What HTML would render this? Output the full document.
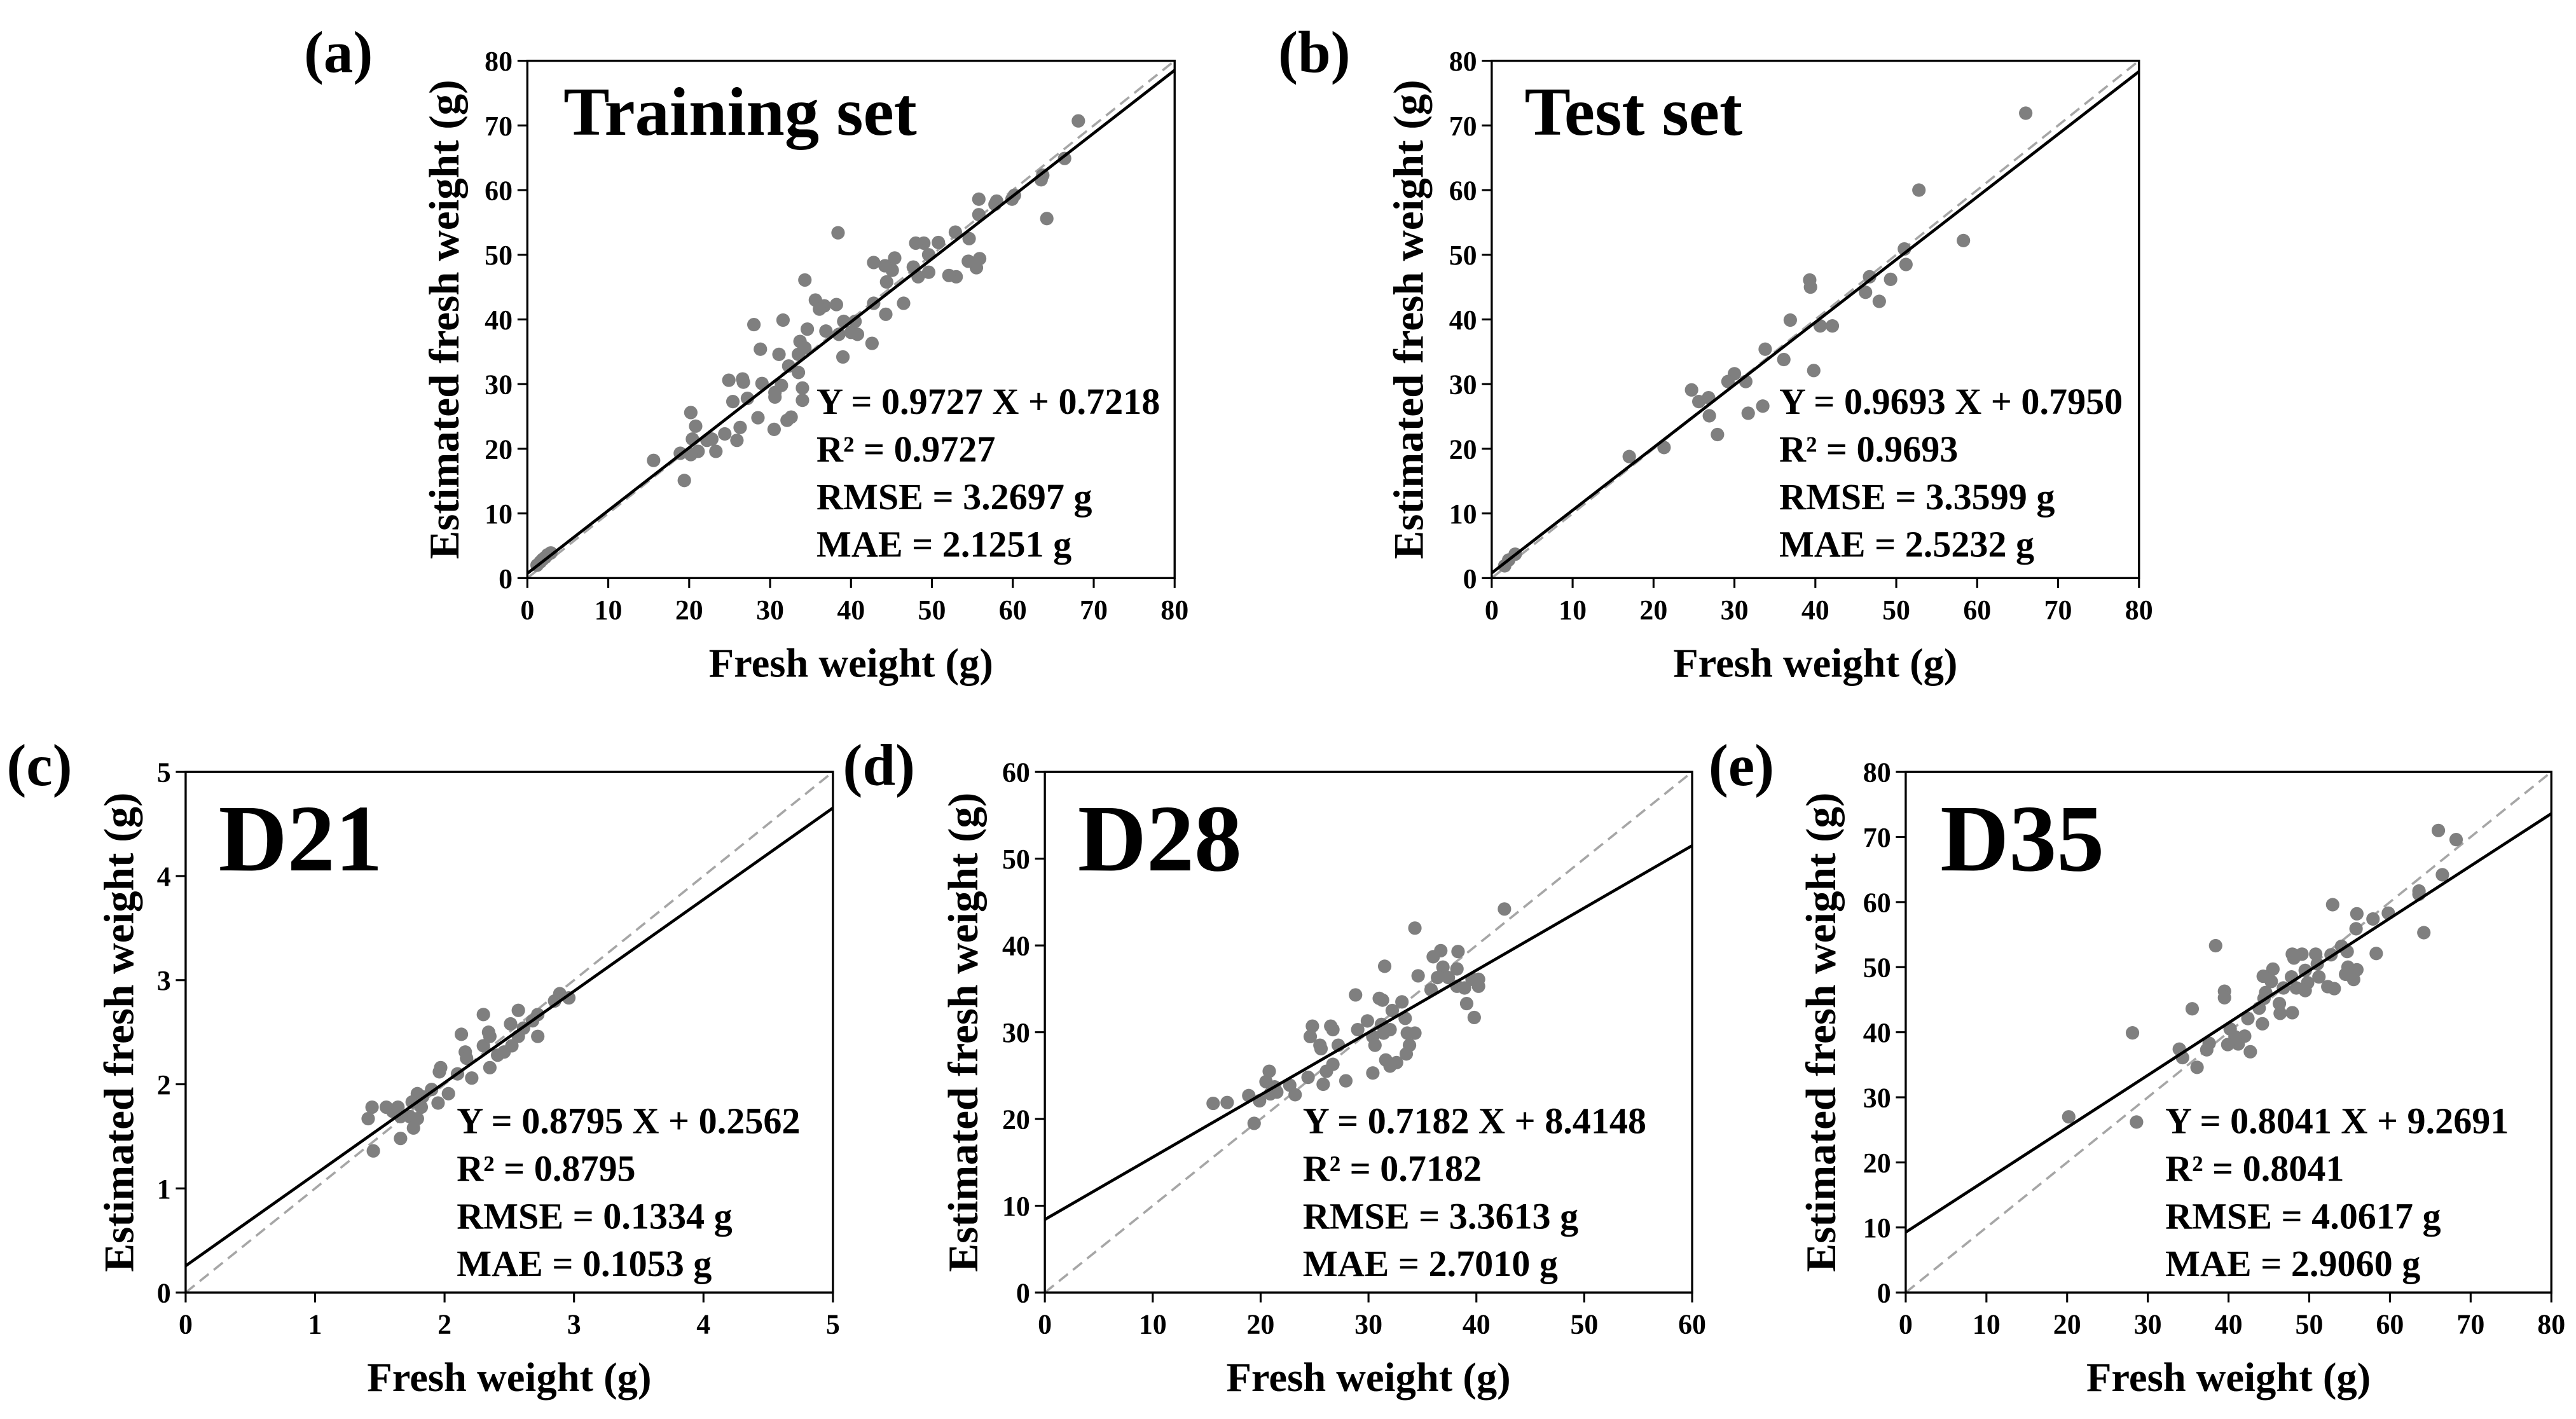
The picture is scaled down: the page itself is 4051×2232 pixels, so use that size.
<!DOCTYPE html>
<html><head><meta charset="utf-8"><style>
html,body{margin:0;padding:0;background:#fff;}
svg{display:block;}
svg text{font-family:"Liberation Serif","Times New Roman",serif !important;font-weight:bold;fill:#000;}
</style></head><body>
<svg id="fig" width="4051" height="2232" viewBox="0 0 1568 864" preserveAspectRatio="none" font-family="Liberation Serif, serif" xmlns="http://www.w3.org/2000/svg"></svg>
<script>
// ---- data ----
const trainX=[68.1,66.4,64.2,63.5,63.7,59.9,57.8,55.8,55.8,55.9,55.5,54.6,54.5,52.9,50.8,53,52.1,49.6,49.6,49,48,48.3,47.7,45.4,45.1,44.4,44.2,42.8,42.8,46.5,44.3,42.6,39.1,40,40.8,38.5,38.2,38.4,39,36.9,35.6,36.7,36.1,34.3,34.6,33.7,33.5,34.3,34,34,33.5,32.3,31.6,31.1,32.1,32.6,31.4,30.6,30.6,30.5,29,28.8,28,28.5,26.7,26.6,27.2,24.9,25.4,26.3,25.9,24.4,22.8,23.3,22.2,21.1,20.8,20.2,20.4,20.2,19.4,18.9,15.6,2.5,1.9,1.2,2.2,1.6,2.9,58,60.2,40.5];
const trainY=[70.7,64.9,55.6,61.6,62.3,58.6,57.8,58.6,56.2,49.4,48,52.5,49,53.5,51.9,46.6,46.8,50,47.3,51.8,51.8,46.6,48.1,49.5,47.6,45.8,48.3,48.8,42.5,42.5,40.8,36.3,39.7,38,37.7,37.7,42.3,53.4,34.2,38.2,43,42.1,41.6,46.1,38.5,36.6,34.6,35.6,29.4,27.5,31.8,32.8,39.9,34.6,24.4,24.9,29.8,28,28.7,23,30.1,35.4,39.2,24.8,30.3,30.8,27.8,30.6,27.3,23.3,21.3,22.3,21.5,19.6,21.3,19.6,23.5,25.6,21.5,19.1,15.1,19.3,18.2,3.6,2.9,2.0,3.2,2.5,3.9,58.3,59.2,39.7];
const testX=[66,52.8,58.3,51,51.2,49.3,46.7,46.2,47.9,39.3,39.4,36.9,40.6,42.1,33.8,36.1,39.8,30,29.2,31.4,24.7,25.6,26.8,26.9,31.7,33.5,27.9,21.3,17,2.1,2.9,1.6];
const testY=[71.9,60,52.2,50.9,48.5,46.2,46.6,44.2,42.8,46.1,45,39.9,39,39,35.4,33.8,32.1,31.6,30.4,30.4,29.1,27.3,27.9,25.1,25.5,26.6,22.2,20.2,18.8,2.8,3.7,1.9];
const d21X=[2.96,2.89,2.85,2.72,2.72,2.68,2.57,2.61,2.51,2.57,2.52,2.46,2.41,2.35,2.34,2.3,2.3,2.35,2.13,2.16,2.17,2.21,2.1,1.97,1.96,1.95,1.9,1.83,1.79,1.75,1.82,1.73,1.79,1.66,1.76,1.66,1.6,1.55,1.44,1.41,1.45,2.03,1.64];
const d21Y=[2.83,2.87,2.8,2.67,2.46,2.61,2.71,2.54,2.58,2.46,2.37,2.31,2.28,2.16,2.5,2.67,2.37,2.46,2.48,2.31,2.25,2.06,2.1,2.16,2.12,1.82,1.95,1.88,1.91,1.83,1.78,1.69,1.67,1.69,1.58,1.48,1.74,1.78,1.78,1.67,1.36,1.91,1.78];
const d28X=[42.6,34.3,31.5,36.7,36,38.3,38.2,36.9,34.6,36.4,37.4,35.8,38.2,38.9,39.6,40.2,40.2,39.1,39.8,28.8,31,31.3,33.1,32.2,33.4,29.9,29,31.2,31.4,32,33.6,34.3,30.4,30.6,33.8,33.5,24.8,24.6,26.5,26.7,25.5,25.6,27.2,26.7,26.1,31.6,32.6,32,30.4,27.9,25.8,24.4,22.7,23.2,20.8,20.5,21.3,20.9,19.9,18.9,16.9,15.6,19.4,21.5];
const d28Y=[44.2,42,37.6,39.4,38.7,39.3,37.3,37.5,36.5,36.3,36.3,34.9,35.3,35.1,36.1,36.1,35.3,33.3,31.7,34.3,33.9,33.7,33.5,32.5,31.6,31.3,30.3,30.9,29.9,30.3,29.9,29.9,29.5,28.5,28.5,27.5,30.7,29.5,30.7,30.3,28.5,28.1,28.5,26.3,25.5,26.8,26.5,26.1,25.3,24.4,24,24.8,23.9,22.8,25.5,24.3,23.7,22.9,22.1,22.7,21.9,21.8,19.5,23.1];
const d35X=[66,68.2,66.5,63.6,63.6,64.2,59.8,57.9,55.9,55.8,52.9,58.3,54.7,54,52.7,50.8,51,49.1,47.9,48.1,54.8,55.9,54.5,55.5,51.2,49.5,49.8,52.3,53.1,47.8,48.4,49.5,45.5,44.3,45.3,46.8,44.6,44.4,46.3,43.8,46.4,47.9,42.4,44.2,38.4,39.5,39.5,35.5,40.2,40.8,42,41.2,39.9,42.7,37.6,37.3,33.9,34.3,36.1,28.1,28.6,20.2];
const d35Y=[71,69.6,64.2,61.7,61.2,55.3,58.3,57.4,58.2,55.9,59.6,52.1,52.4,53.2,51.9,52,50.5,52,52,51.4,50,49.6,48.9,48.1,48.5,49.5,47.6,47,46.7,48.5,46.8,46.4,49.7,48.6,47.8,46.8,46.1,45.2,44.4,43.7,42.9,43,42.1,41.3,53.3,46.3,45.3,43.6,40.5,39.3,39.4,38.2,38.1,37,38.3,37.3,37.4,36.1,34.6,39.9,26.2,27];
const xTicksA=[0,10,20,30,40,50,60,70,80];
const ticksC=[0,1,2,3,4,5];
const ticksD=[0,10,20,30,40,50,60];
const slopes=[0.9727,0.9693,0.8795,0.7182,0.8041];
const intercepts=[0.7218,0.7950,0.2562,8.4148,9.2691];
const statR2=["0.9727","0.9693","0.8795","0.7182","0.8041"];
const statRMSE=["3.2697","3.3599","0.1334","3.3613","4.0617"];
const statMAE=["2.1251","2.5232","0.1053","2.7010","2.9060"];
const titles=["Training set","Test set","D21","D28","D35"];
const letters=["(a)","(b)","(c)","(d)","(e)"];

// ---- layout ----
const panels=[
 {L:321,R:715,T:37,B:352,max:80,ticks:xTicksA,xs:trainX,ys:trainY,title:{x:343,y:82,s:42},lab:{x:185,y:44},st:{x:497,y:252},yt:270,xt:403,key:"training"},
 {L:908,R:1302,T:37,B:352,max:80,ticks:xTicksA,xs:testX,ys:testY,title:{x:928,y:82,s:42},lab:{x:778,y:44},st:{x:1083,y:252},yt:857,xt:403,key:"test"},
 {L:113,R:507,T:470,B:787,max:5,ticks:ticksC,xs:d21X,ys:d21Y,title:{x:133,y:530,s:58},lab:{x:4,y:478},st:{x:278,y:690},yt:72,xt:838,key:"d21"},
 {L:636,R:1030,T:470,B:787,max:60,ticks:ticksD,xs:d28X,ys:d28Y,title:{x:656,y:530,s:58},lab:{x:513,y:478},st:{x:793,y:690},yt:586,xt:838,key:"d28"},
 {L:1160,R:1553,T:470,B:787,max:80,ticks:xTicksA,xs:d35X,ys:d35Y,title:{x:1181,y:530,s:58},lab:{x:1040,y:478},st:{x:1318,y:690},yt:1108,xt:838,key:"d35"}
];
const NS="http://www.w3.org/2000/svg";
const FF="'Liberation Serif', 'Times New Roman', serif";
const svg=document.getElementById('fig');
function mk(tag,attrs,parent,txt){const e=document.createElementNS(NS,tag);for(const k in attrs)e.setAttribute(k,attrs[k]);if(tag==='text'){e.setAttribute('font-family',FF);e.setAttribute('font-weight','bold');e.style.fontFamily=FF;}if(txt!==undefined)e.textContent=txt;(parent||svg).appendChild(e);return e;}

panels.forEach((p,i)=>{
  const g=mk('g',{});
  
  
  const sx=v=>p.L+(v/p.max)*(p.R-p.L);
  const sy=v=>p.B-(v/p.max)*(p.B-p.T);
  const clip='clip'+i;
  const cp=mk('clipPath',{id:clip},g);mk('rect',{x:p.L,y:p.T,width:p.R-p.L,height:p.B-p.T},cp);
  const ref=mk('line',{x1:sx(0),y1:sy(0),x2:sx(p.max),y2:sy(p.max),stroke:'#a6a6a6','stroke-width':1.4,'stroke-dasharray':'7,4','clip-path':`url(#${clip})`},g);
  
  
  const pts=mk('g',{},g);
  
  
  p.xs.forEach((xv,j)=>{
    const c=mk('circle',{cx:sx(xv),cy:sy(p.ys[j]),r:4.1,fill:'#7f7f7f'},pts);
    
    
  });
  const x2=Math.min(p.max,(p.max-intercepts[i])/slopes[i]);
  const fit=mk('line',{x1:sx(0),y1:sy(intercepts[i]),x2:sx(x2),y2:sy(slopes[i]*x2+intercepts[i]),stroke:'#000','stroke-width':1.8,'clip-path':`url(#${clip})`},g);
  
  
  const fr=mk('rect',{x:p.L,y:p.T,width:p.R-p.L,height:p.B-p.T,fill:'none',stroke:'#000','stroke-width':1.3},g);
  
  
  p.ticks.forEach(t=>{
    mk('line',{x1:sx(t),y1:p.B,x2:sx(t),y2:p.B+6,stroke:'#000','stroke-width':1.2},g);
    mk('line',{x1:p.L,y1:sy(t),x2:p.L-6,y2:sy(t),stroke:'#000','stroke-width':1.2},g);
    const xl=mk('text',{x:sx(t),y:p.B+25,'font-size':17,'text-anchor':'middle'},g,String(t));
    
    
    const yl=mk('text',{x:p.L-9,y:sy(t)+6,'font-size':17,'text-anchor':'end'},g,String(t));
    
    
  });
  const xt=mk('text',{x:(p.L+p.R)/2,y:p.xt+9,'font-size':25,'text-anchor':'middle'},g,'Fresh weight (g)');
  
  
  const cy=(p.T+p.B)/2;
  const yt=mk('text',{x:p.yt,y:cy,'font-size':26,'text-anchor':'middle',transform:`rotate(-90 ${p.yt} ${cy})`,dy:9},g,'Estimated fresh weight (g)');
  
  
  const ti=mk('text',{x:p.title.x,y:p.title.y,'font-size':p.title.s},g,titles[i]);
  
  
  const lb=mk('text',{x:p.lab.x,y:p.lab.y,'font-size':36},g,letters[i]);
  
  
  const lines=[`Y = ${slopes[i].toFixed(4)} X + ${intercepts[i].toFixed(4)}`,`R² = ${statR2[i]}`,`RMSE = ${statRMSE[i]} g`,`MAE = ${statMAE[i]} g`];
  lines.forEach((s,k)=>{
    const st=mk('text',{x:p.st.x,y:p.st.y+k*29,'font-size':22.5},g,s);
    
    
  });
});
</script>
</body></html>
